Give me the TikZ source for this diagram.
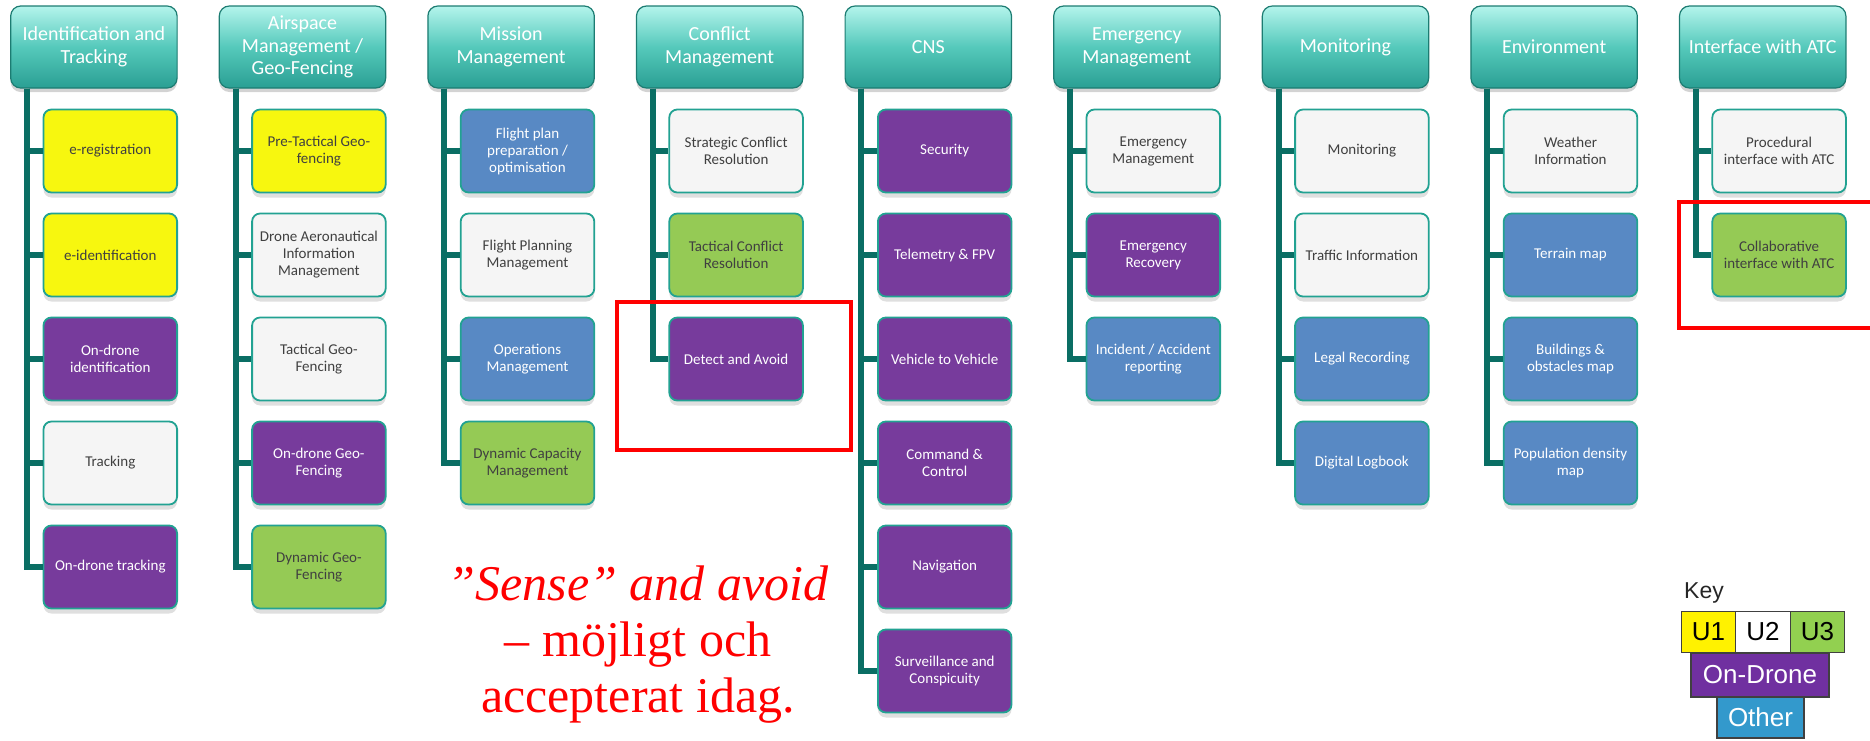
\documentclass[tikz,border=0pt]{standalone}
\usepackage{fontspec}
\setmainfont{Carlito}
\newfontfamily\notefont{Liberation Serif}
\newfontfamily\keyfont{Liberation Sans}
\usetikzlibrary{shadows}

\definecolor{hdtop}{HTML}{B4F4EC}
\definecolor{hdmid}{HTML}{55C9BB}
\definecolor{hdbot}{HTML}{2A9F93}
\definecolor{hdline}{HTML}{1C7C72}
\definecolor{trunkc}{HTML}{0A6E64}
\definecolor{boxline}{HTML}{22A292}
\definecolor{cyel}{HTML}{F7F70F}
\definecolor{cwht}{HTML}{F5F5F5}
\definecolor{cpur}{HTML}{773B9C}
\definecolor{cblu}{HTML}{5889C4}
\definecolor{cgrn}{HTML}{95CA55}
\definecolor{ctxt}{HTML}{404040}
\definecolor{kgrn}{HTML}{92D050}
\definecolor{kpur}{HTML}{7030A0}
\definecolor{kblu}{HTML}{3399CC}

\tikzset{
  hdr/.style={rectangle, rounded corners=5pt, draw=hdline, line width=0.6pt,
    top color=hdtop, bottom color=hdbot, middle color=hdmid,
    minimum width=83.2pt, minimum height=41pt, inner sep=0pt, align=center,
    text=white, font=\fontsize{10}{11.3}\selectfont,
    drop shadow={shadow xshift=0pt, shadow yshift=-2pt, opacity=0.35}},
  itembox/.style={rectangle, rounded corners=4pt, draw=boxline, line width=0.9pt,
    minimum width=66.8pt, minimum height=41.5pt, inner sep=0pt, align=center,
    font=\fontsize{7.5}{8.5}\selectfont,
    drop shadow={shadow xshift=0pt, shadow yshift=-2.5pt, opacity=0.25}},
  ybox/.style={itembox, fill=cyel, text=ctxt},
  wbox/.style={itembox, fill=cwht, text=ctxt},
  gbox/.style={itembox, fill=cgrn, text=ctxt},
  pbox/.style={itembox, fill=cpur, text=white},
  blubox/.style={itembox, fill=cblu, text=white},
  trunk/.style={draw=trunkc, line width=3pt},
  redframe/.style={draw=red, line width=2pt},
  keycell/.style={draw=black!75, line width=0.6pt, inner sep=0pt,
    font=\keyfont\fontsize{13}{13}\selectfont}
}

\begin{document}
\begin{tikzpicture}[x=0.5pt, y=-0.5pt]
          \useasboundingbox (0,0) rectangle (1870,740);

          % headers
          \node[hdr] (h1) at (93.9,47)   {Identification and\\Tracking};
          \node[hdr] (h2) at (302.5,47)  {Airspace\\Management /\\Geo-Fencing};
          \node[hdr] (h3) at (511.1,47)  {Mission\\Management};
          \node[hdr] (h4) at (719.7,47)  {Conflict\\Management};
          \node[hdr] (h5) at (928.3,47)  {CNS};
          \node[hdr] (h6) at (1136.9,47) {Emergency\\Management};
          \node[hdr] (h7) at (1345.5,47) {Monitoring};
          \node[hdr] (h8) at (1554.1,47) {Environment};
          \node[hdr] (h9) at (1762.7,47) {Interface with ATC};

          % identification and tracking
          \node[ybox] (c11) at (110.3,151) {e-registration};
          \node[ybox] (c12) at (110.3,255) {e-identification};
          \node[pbox] (c13) at (110.3,359) {On-drone\\identification};
          \node[wbox] (c14) at (110.3,463) {Tracking};
          \node[pbox] (c15) at (110.3,567) {On-drone tracking};

          % airspace
          \node[ybox] (c21) at (318.9,151) {Pre-Tactical Geo-\\fencing};
          \node[wbox] (c22) at (318.9,255) {Drone Aeronautical\\Information\\Management};
          \node[wbox] (c23) at (318.9,359) {Tactical Geo-\\Fencing};
          \node[pbox] (c24) at (318.9,463) {On-drone Geo-\\Fencing};
          \node[gbox] (c25) at (318.9,567) {Dynamic Geo-\\Fencing};

          % mission
          \node[blubox] (c31) at (527.5,151) {Flight plan\\preparation /\\optimisation};
          \node[wbox]   (c32) at (527.5,255) {Flight Planning\\Management};
          \node[blubox] (c33) at (527.5,359) {Operations\\Management};
          \node[gbox]   (c34) at (527.5,463) {Dynamic Capacity\\Management};

          % conflict
          \node[wbox] (c41) at (736.1,151) {Strategic Conflict\\Resolution};
          \node[gbox] (c42) at (736.1,255) {Tactical Conflict\\Resolution};
          \node[pbox] (c43) at (736.1,359) {Detect and Avoid};

          % cns
          \node[pbox] (c51) at (944.7,151) {Security};
          \node[pbox] (c52) at (944.7,255) {Telemetry \& FPV};
          \node[pbox] (c53) at (944.7,359) {Vehicle to Vehicle};
          \node[pbox] (c54) at (944.7,463) {Command \&\\Control};
          \node[pbox] (c55) at (944.7,567) {Navigation};
          \node[pbox] (c56) at (944.7,671) {Surveillance and\\Conspicuity};

          % emergency
          \node[wbox]   (c61) at (1153.3,151) {Emergency\\Management};
          \node[pbox]   (c62) at (1153.3,255) {Emergency\\Recovery};
          \node[blubox] (c63) at (1153.3,359) {Incident / Accident\\reporting};

          % monitoring
          \node[wbox]   (c71) at (1361.9,151) {Monitoring};
          \node[wbox]   (c72) at (1361.9,255) {Traffic Information};
          \node[blubox] (c73) at (1361.9,359) {Legal Recording};
          \node[blubox] (c74) at (1361.9,463) {Digital Logbook};

          % environment
          \node[wbox]   (c81) at (1570.5,151) {Weather\\Information};
          \node[blubox] (c82) at (1570.5,255) {Terrain map};
          \node[blubox] (c83) at (1570.5,359) {Buildings \&\\obstacles map};
          \node[blubox] (c84) at (1570.5,463) {Population density\\map};

          % atc
          \node[wbox] (c91) at (1779.1,151) {Procedural\\interface with ATC};
          \node[gbox] (c92) at (1779.1,255) {Collaborative\\interface with ATC};

          % trunks
          \draw[trunk] ([xshift=8.4pt]h1.south west) |- (c11.west);
          \draw[trunk] ([xshift=8.4pt]h1.south west) |- (c12.west);
          \draw[trunk] ([xshift=8.4pt]h1.south west) |- (c13.west);
          \draw[trunk] ([xshift=8.4pt]h1.south west) |- (c14.west);
          \draw[trunk] ([xshift=8.4pt]h1.south west) |- (c15.west);

          \draw[trunk] ([xshift=8.4pt]h2.south west) |- (c21.west);
          \draw[trunk] ([xshift=8.4pt]h2.south west) |- (c22.west);
          \draw[trunk] ([xshift=8.4pt]h2.south west) |- (c23.west);
          \draw[trunk] ([xshift=8.4pt]h2.south west) |- (c24.west);
          \draw[trunk] ([xshift=8.4pt]h2.south west) |- (c25.west);

          \draw[trunk] ([xshift=8.4pt]h3.south west) |- (c31.west);
          \draw[trunk] ([xshift=8.4pt]h3.south west) |- (c32.west);
          \draw[trunk] ([xshift=8.4pt]h3.south west) |- (c33.west);
          \draw[trunk] ([xshift=8.4pt]h3.south west) |- (c34.west);

          \draw[trunk] ([xshift=8.4pt]h4.south west) |- (c41.west);
          \draw[trunk] ([xshift=8.4pt]h4.south west) |- (c42.west);
          \draw[trunk] ([xshift=8.4pt]h4.south west) |- (c43.west);

          \draw[trunk] ([xshift=8.4pt]h5.south west) |- (c51.west);
          \draw[trunk] ([xshift=8.4pt]h5.south west) |- (c52.west);
          \draw[trunk] ([xshift=8.4pt]h5.south west) |- (c53.west);
          \draw[trunk] ([xshift=8.4pt]h5.south west) |- (c54.west);
          \draw[trunk] ([xshift=8.4pt]h5.south west) |- (c55.west);
          \draw[trunk] ([xshift=8.4pt]h5.south west) |- (c56.west);

          \draw[trunk] ([xshift=8.4pt]h6.south west) |- (c61.west);
          \draw[trunk] ([xshift=8.4pt]h6.south west) |- (c62.west);
          \draw[trunk] ([xshift=8.4pt]h6.south west) |- (c63.west);

          \draw[trunk] ([xshift=8.4pt]h7.south west) |- (c71.west);
          \draw[trunk] ([xshift=8.4pt]h7.south west) |- (c72.west);
          \draw[trunk] ([xshift=8.4pt]h7.south west) |- (c73.west);
          \draw[trunk] ([xshift=8.4pt]h7.south west) |- (c74.west);

          \draw[trunk] ([xshift=8.4pt]h8.south west) |- (c81.west);
          \draw[trunk] ([xshift=8.4pt]h8.south west) |- (c82.west);
          \draw[trunk] ([xshift=8.4pt]h8.south west) |- (c83.west);
          \draw[trunk] ([xshift=8.4pt]h8.south west) |- (c84.west);

          \draw[trunk] ([xshift=8.4pt]h9.south west) |- (c91.west);
          \draw[trunk] ([xshift=8.4pt]h9.south west) |- (c92.west);

          % red marks
          \draw[redframe] (617,302) rectangle (851,450);
          \draw[redframe] (1872,202) -- (1679,202) -- (1679,328) -- (1872,328);
          \node[text=red, align=center, font=\notefont\fontsize{25}{28}\selectfont] (note) at (638,645)
            {\textit{”Sense” and avoid}\\– möjligt och\\accepterat idag.};

          % key
          \node[text=black!85, font=\keyfont\fontsize{11.5}{12}\selectfont] (key) at (1704,593) {Key};
          \node[keycell, fill=yellow, minimum width=27.35pt, minimum height=20.5pt] (ku1) at (1708.5,632) {U1};
          \node[keycell, fill=white, minimum width=27.35pt, minimum height=20.5pt] (ku2) at (1763,632) {U2};
          \node[keycell, fill=kgrn, minimum width=27.35pt, minimum height=20.5pt] (ku3) at (1817.5,632) {U3};
          \node[keycell, fill=kpur, text=white, minimum width=69pt, minimum height=22pt] (kod) at (1760,675) {On-Drone};
          \node[keycell, fill=kblu, text=white, minimum width=43.5pt, minimum height=20.5pt] (kot) at (1760.5,717.5) {Other};
        \end{tikzpicture}
\end{document}
